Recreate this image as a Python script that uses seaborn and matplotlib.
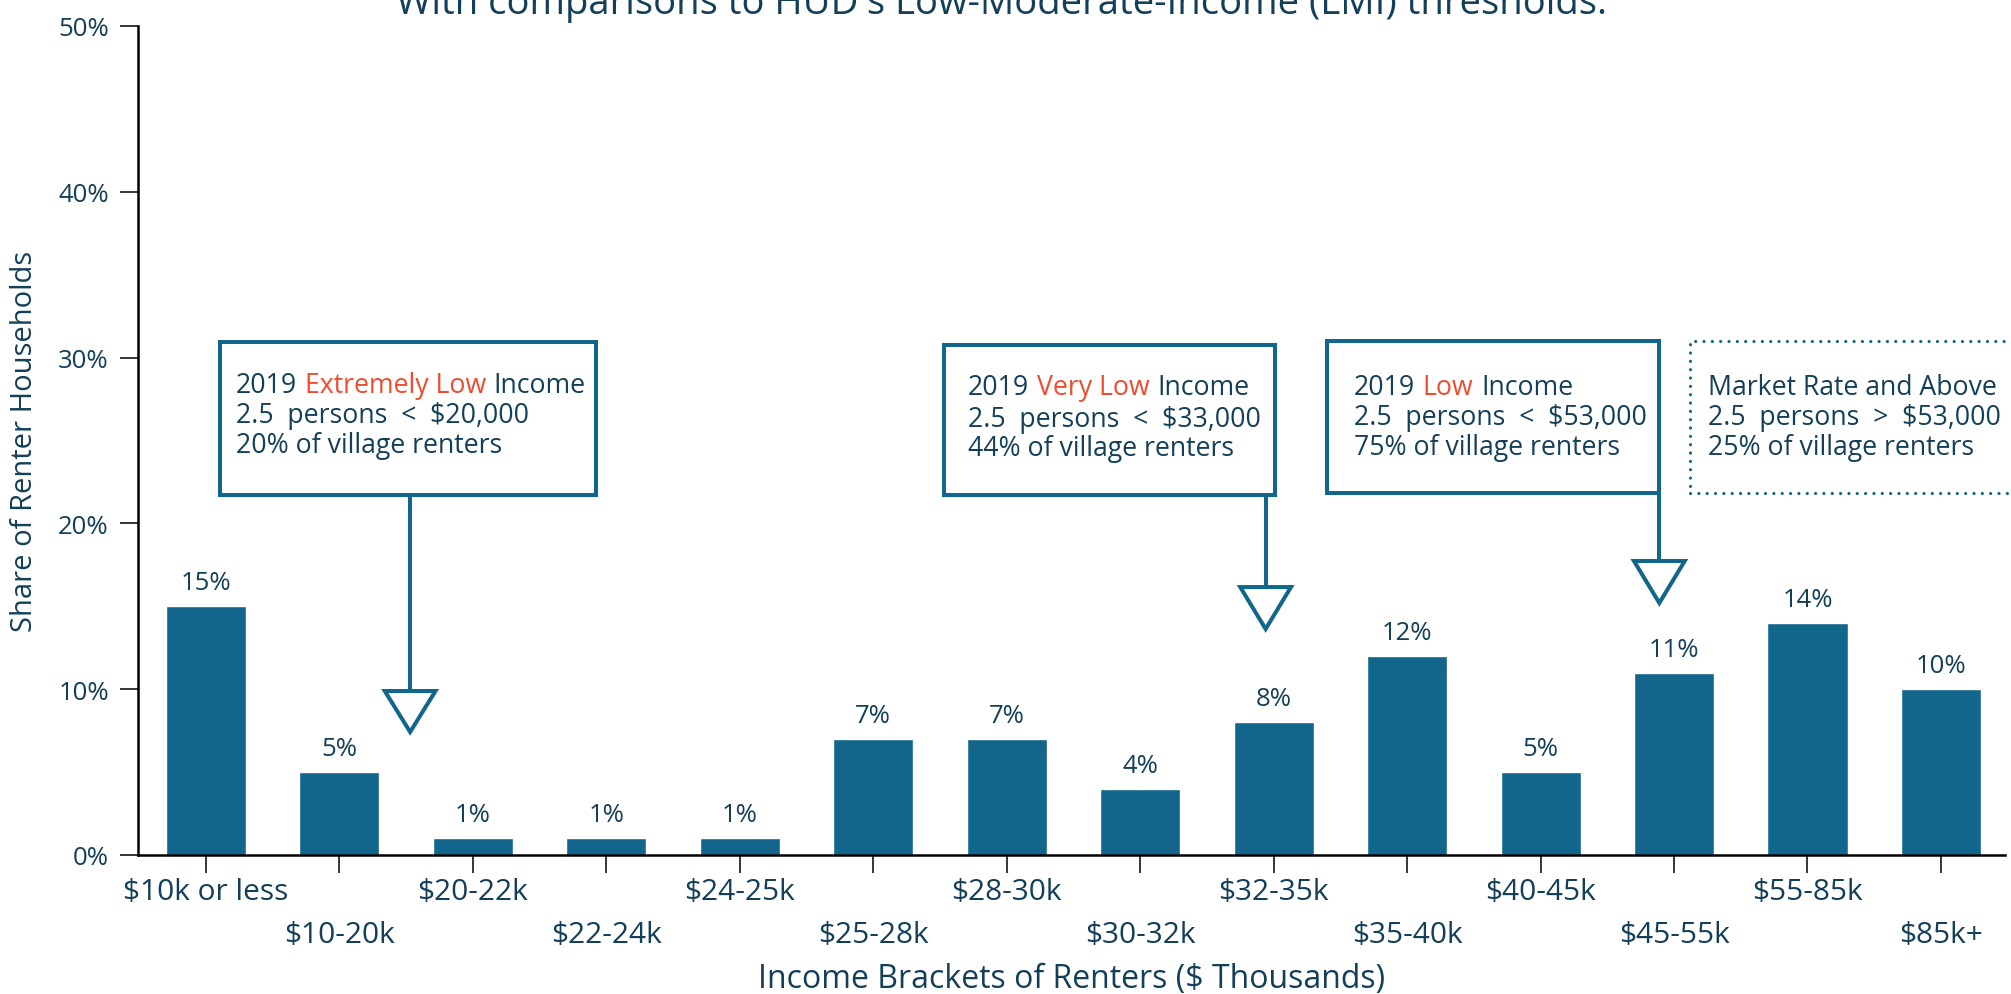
import matplotlib
matplotlib.use("Agg")
import matplotlib.pyplot as plt
from matplotlib.patches import Rectangle, Polygon
from matplotlib.transforms import ScaledTranslation
import seaborn as sns
import pandas as pd

# Renter households by income bracket (share of all renter households, %)
brackets = ["$10k or less", "$10-20k", "$20-22k", "$22-24k", "$24-25k",
            "$25-28k", "$28-30k", "$30-32k", "$32-35k", "$35-40k",
            "$40-45k", "$45-55k", "$55-85k", "$85k+"]
share = [15, 5, 1, 1, 1, 7, 7, 4, 8, 12, 5, 11, 14, 10]
y_ticks = [0, 10, 20, 30, 40, 50]

BAR = "#12658b"
INK = "#133f58"
ACCENT = "#f04b2d"
FS = 18.5
BOX_FS = 19.2

sns.set_style("ticks")
plt.rcParams["font.family"] = ["Open Sans", "DejaVu Sans"]

W, H = 2011, 995
fig = plt.figure(figsize=(W / 100, H / 100), dpi=100)
ax = fig.add_axes([138 / W, 139 / H, (2005 - 138) / W, 829 / H])

df = pd.DataFrame({"bracket": brackets, "share": share})
sns.barplot(data=df, x="bracket", y="share", color=BAR, saturation=1,
            width=0.6, ax=ax)

ax.set_xlim(-0.509, 13.48)
ax.set_ylim(0, 50)
ax.set_yticks(y_ticks)
ax.set_yticklabels([f"{t}%" for t in y_ticks])

for side in ("top", "right"):
    ax.spines[side].set_visible(False)
for side in ("left", "bottom"):
    ax.spines[side].set_linewidth(1.8)
    ax.spines[side].set_color("black")

ax.tick_params(axis="both", direction="out", length=13, width=1.1,
               color="black", labelcolor=INK)
ax.tick_params(axis="x", pad=3, labelsize=21.5)
ax.tick_params(axis="y", pad=8, labelsize=FS)

# value labels on the bars
ax.bar_label(ax.containers[0], labels=[f"{v}%" for v in share],
             padding=8, color=INK, fontsize=FS)

# staggered category labels: every other one drops to a second row
drop = ScaledTranslation(0, -0.43, fig.dpi_scale_trans)
for i, lab in enumerate(ax.get_xticklabels()):
    if i % 2 == 1:
        lab.set_transform(lab.get_transform() + drop)

ax.set_xlabel("Income Brackets of Renters ($ Thousands)", color=INK, fontsize=23)
ax.xaxis.label.set_va("center")
ax.xaxis.set_label_coords(0.5, -(980 - 856) / 829)
ax.set_ylabel("Share of Renter Households", color=INK, fontsize=21)
ax.yaxis.label.set_va("center")
ax.yaxis.set_label_coords((25 - 138) / 1867, 0.5)

fig.text(0.498, 1 - 14 / H,
         "With comparisons to HUD's Low-Moderate-Income (LMI) thresholds.",
         ha="center", va="baseline", color=INK, fontsize=27.5)


def rich_line(x, y, dx_px, dy_px, parts):
    """Draw one line of text made of differently coloured pieces."""
    tr = ax.transData + ScaledTranslation(dx_px / 100, -dy_px / 100, fig.dpi_scale_trans)
    prev = None
    for txt, col in parts:
        if prev is None:
            prev = ax.text(x, y, txt, transform=tr, color=col, fontsize=BOX_FS,
                           ha="left", va="baseline")
        else:
            prev = ax.annotate(txt, xy=(1, 0), xycoords=prev, xytext=(5.5, 0),
                               textcoords="offset points", color=col,
                               fontsize=BOX_FS, ha="left", va="bottom")


def callout(x0, x1, y0, y1, lines, dx, dys, stem_x=None, tri_top=None,
            tri_tip=None, dotted=False):
    kw = dict(fill=False, edgecolor=BAR, clip_on=False, zorder=3)
    if dotted:
        rect = Rectangle((x0, y0), x1 - x0, y1 - y0, linewidth=2.3,
                         linestyle=(0, (0.01, 2.6)), **kw)
        rect.set_capstyle("round")
    else:
        rect = Rectangle((x0, y0), x1 - x0, y1 - y0, linewidth=2.9,
                         joinstyle="miter", **kw)
    ax.add_patch(rect)
    for parts, dy in zip(lines, dys):
        rich_line(x0, y1, dx, dy, parts)
    if stem_x is not None:
        ax.plot([stem_x, stem_x], [y0, tri_top], color=BAR, lw=2.9,
                solid_capstyle="butt", zorder=3, clip_on=False)
        half = 0.19
        tri = Polygon([(stem_x - half, tri_top), (stem_x + half, tri_top),
                       (stem_x, tri_tip)], closed=True, facecolor="white",
                      edgecolor=BAR, linewidth=2.9, joinstyle="miter",
                      zorder=4, clip_on=False)
        ax.add_patch(tri)


callout(0.105, 2.925, 21.71, 30.94,
        [[("2019", INK), ("Extremely Low", ACCENT), ("Income", INK)],
         [("2.5  persons  <  $20,000", INK)],
         [("20% of village renters", INK)]],
        dx=16, dys=[50, 80, 110], stem_x=1.53, tri_top=9.89, tri_tip=7.42)

callout(5.53, 8.01, 21.71, 30.76,
        [[("2019", INK), ("Very Low", ACCENT), ("Income", INK)],
         [("2.5  persons  <  $33,000", INK)],
         [("44% of village renters", INK)]],
        dx=24, dys=[49, 81, 110], stem_x=7.94, tri_top=16.16, tri_tip=13.63)

callout(8.40, 10.89, 21.83, 31.0,
        [[("2019", INK), ("Low", ACCENT), ("Income", INK)],
         [("2.5  persons  <  $53,000", INK)],
         [("75% of village renters", INK)]],
        dx=27, dys=[53, 83, 113], stem_x=10.89, tri_top=17.73, tri_tip=15.2)

callout(11.12, 14.6, 21.83, 31.0,
        [[("Market Rate and Above", INK)],
         [("2.5  persons  >  $53,000", INK)],
         [("25% of village renters", INK)]],
        dx=18, dys=[53, 83, 113], dotted=True)

fig.savefig("out.png", dpi=100)
